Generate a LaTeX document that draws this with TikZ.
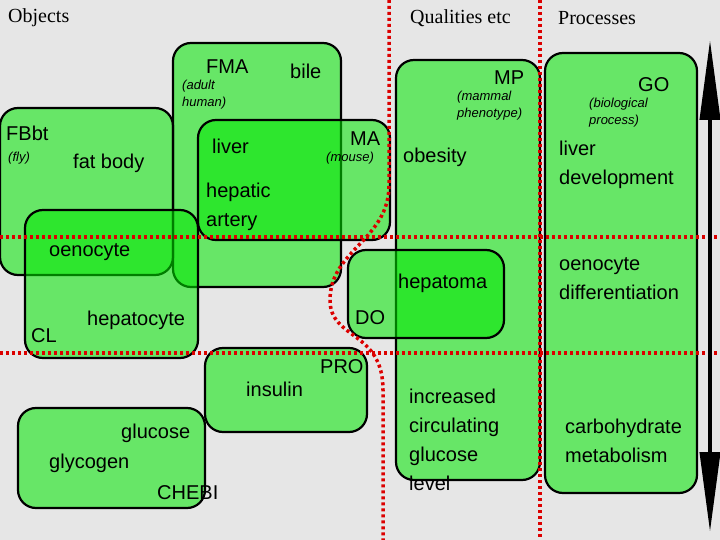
\documentclass[tikz,border=0pt]{standalone}
\usepackage{fontspec}
\setmainfont{Liberation Sans}
\newfontfamily\serifhd{Liberation Serif}
\usetikzlibrary{arrows.meta}
\definecolor{bg}{RGB}{230,230,230}
\definecolor{gr}{RGB}{0,230,0}
\definecolor{dred}{RGB}{220,0,0}
\begin{document}
\begin{tikzpicture}[x=1pt,y=-1pt,
  box/.style={fill=gr,fill opacity=0.55,draw=black,line width=2.2pt,rounded corners=18pt},
  t/.style={anchor=west,font=\fontsize{20}{29}\selectfont,inner sep=0pt,align=left},
  s/.style={anchor=west,font=\fontsize{13}{17}\selectfont\itshape,inner sep=0pt,align=left},
  h/.style={anchor=west,font=\serifhd\fontsize{20}{22}\selectfont,inner sep=0pt},
  dot/.style={draw=dred,line width=3.5pt,dash pattern=on 3pt off 3pt}]
\useasboundingbox[fill=bg] (0,0) rectangle (720,540);
\node[h] (ho) at (8,18) {Objects};
\node[h] (hq) at (410,18) {Qualities etc};
\node[h] (hp) at (558,18) {Processes};
\draw[box] (173,43) rectangle (341,287);
\draw[box] (0,108) rectangle (173,275);
\draw[box] (25,210) rectangle (198,358);
\draw[box] (198,120) rectangle (390,240);
\draw[box] (396,60) rectangle (540,480);
\draw[box] (545,53) rectangle (697,493);
\draw[box] (348,250) rectangle (504,338);
\draw[box] (205,348) rectangle (367,432);
\draw[box] (18,408) rectangle (205,508);
\node[t] (fma) at (206,67) {FMA};
\node[s] (fmas) at (182,95) {(adult\\human)};
\node[t] (bile) at (290,71) {bile};
\node[t] (fbbt) at (6,133) {FBbt};
\node[s] (fly) at (8,158) {(fly)};
\node[t] (fat) at (73,163) {fat body};
\node[t] (liver) at (212,146) {liver};
\node[t] (ma) at (350,139) {MA};
\node[s] (mouse) at (326,158) {(mouse)};
\node[t] (hep) at (206,207) {hepatic\\artery};
\node[t] (oeno) at (49,252) {oenocyte};
\node[t] (hcyte) at (87,320) {hepatocyte};
\node[t] (cl) at (31,336) {CL};
\node[t] (mp) at (494,78) {MP};
\node[s] (mps) at (457,106) {(mammal\\phenotype)};
\node[t] (ob) at (403,157) {obesity};
\node[t] (hepa) at (398,283) {hepatoma};
\node[t] (do) at (355,318) {DO};
\node[t] (pro) at (320,367) {PRO};
\node[t] (ins) at (246,389) {insulin};
\node[t] (icg) at (409,440) {increased\\circulating\\glucose\\level};
\node[t] (go) at (638,85) {GO};
\node[s] (gos) at (589,113) {(biological\\process)};
\node[t] (ld) at (559,165) {liver\\development};
\node[t] (od) at (559,279) {oenocyte\\differentiation};
\node[t] (cm) at (565,441) {carbohydrate\\metabolism};
\node[t] (glu) at (121,433) {glucose};
\node[t] (gly) at (49,463) {glycogen};
\node[t] (chebi) at (157,493) {CHEBI};
\draw[dot] (0,237) -- (720,237);
\draw[dot] (0,353) -- (720,353);
\draw[dot] (540,0) -- (540,540);
\draw[dot] (389,0) -- (389,185) .. controls (389,240) and (330,250) .. (330,300) .. controls (330,340) and (383,330) .. (383,390) -- (383,540);
\coordinate (a1) at (710,40);
\coordinate (a2) at (710,532);
\draw[line width=4pt,{Triangle[length=80pt,width=20pt]}-{Triangle[length=80pt,width=20pt]}] (a1) -- (a2);
\end{tikzpicture}
\end{document}
